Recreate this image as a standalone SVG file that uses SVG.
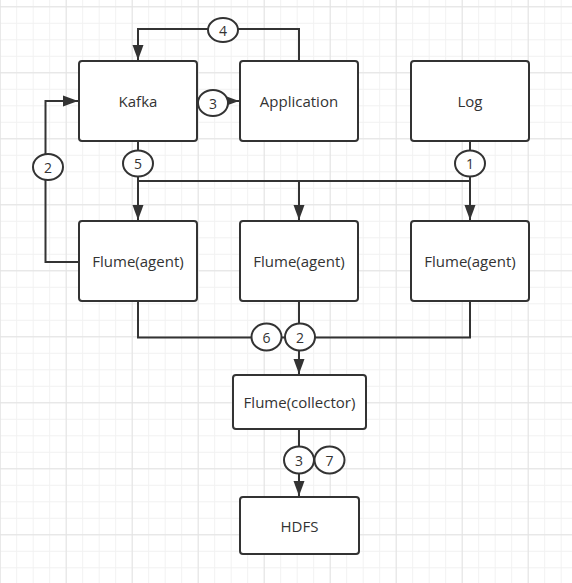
<svg xmlns="http://www.w3.org/2000/svg" width="572" height="583" viewBox="0 0 572 583">
<defs>
<pattern id="minor" x="-0.3" y="6.3" width="16.5" height="16.5" patternUnits="userSpaceOnUse">
<path d="M0 0.5H16.5M0.5 0V16.5" fill="none" stroke="#f1f1f1" stroke-width="1"/>
</pattern>
<pattern id="major" x="-0.3" y="6.3" width="66" height="66" patternUnits="userSpaceOnUse">
<path d="M0 0.5H66M0.5 0V66" fill="none" stroke="#e3e3e3" stroke-width="1"/>
</pattern>
<marker id="arr" markerWidth="16" markerHeight="12" refX="15" refY="6" orient="auto" markerUnits="userSpaceOnUse">
<path d="M0 0.5L15 6L0 11.5Z" fill="#333"/>
</marker>
<style>
.box{fill:#fff;stroke:#333;stroke-width:2}
.lbl{font-family:"Open Sans","Noto Sans",sans-serif;font-size:15px;fill:#333;text-anchor:middle;dominant-baseline:central}
.num{font-family:"Open Sans","Noto Sans",sans-serif;font-size:14px;fill:#333;text-anchor:middle;dominant-baseline:central}
.ln{fill:none;stroke:#333;stroke-width:2}
.cir{fill:#fff;stroke:#333;stroke-width:2}
</style>
</defs>
<rect width="572" height="583" fill="#fff"/>
<rect width="572" height="583" fill="url(#minor)"/>
<rect width="572" height="583" fill="url(#major)"/>

<g id="connectors">
<path class="ln" d="M299 61V29H138V60" marker-end="url(#arr)"/>
<path class="ln" d="M197 101H239" marker-end="url(#arr)"/>
<path class="ln" d="M79 262H45.5V101H78" marker-end="url(#arr)"/>
<path class="ln" d="M138 141V181H470V141"/>
<path class="ln" d="M138 181V220" marker-end="url(#arr)"/>
<path class="ln" d="M299 181V220" marker-end="url(#arr)"/>
<path class="ln" d="M470 181V220" marker-end="url(#arr)"/>
<path class="ln" d="M138 301V337.5H470V301"/>
<path class="ln" d="M299 301V374" marker-end="url(#arr)"/>
<path class="ln" d="M299 429V496" marker-end="url(#arr)"/>
<g id="c4"><ellipse class="cir" cx="223" cy="30" rx="15" ry="12"/><text class="num" x="223" y="30">4</text></g>
<g id="c3a"><ellipse class="cir" cx="213" cy="103" rx="15" ry="13"/><text class="num" x="213" y="103">3</text></g>
<g id="c2a"><ellipse class="cir" cx="48" cy="167" rx="15" ry="13"/><text class="num" x="48" y="167">2</text></g>
<g id="c5"><ellipse class="cir" cx="138" cy="163.5" rx="15" ry="13"/><text class="num" x="138" y="163.5">5</text></g>
<g id="c1"><ellipse class="cir" cx="470" cy="163.5" rx="15" ry="13"/><text class="num" x="470" y="163.5">1</text></g>
<g id="c6"><ellipse class="cir" cx="266.5" cy="337" rx="15" ry="13.5"/><text class="num" x="266.5" y="337">6</text></g>
<g id="c2b"><ellipse class="cir" cx="300" cy="337" rx="15" ry="13.5"/><text class="num" x="300" y="337">2</text></g>
<g id="c3b"><ellipse class="cir" cx="299" cy="460" rx="15" ry="13.5"/><text class="num" x="299" y="460">3</text></g>
<g id="c7"><ellipse class="cir" cx="329.5" cy="460" rx="15" ry="13.5"/><text class="num" x="329.5" y="460">7</text></g>
</g>

<g id="kafka"><rect class="box" x="79" y="61" width="118" height="80" rx="3"/><text class="lbl" x="138" y="101">Kafka</text></g>
<g id="application"><rect class="box" x="240" y="61" width="118" height="80" rx="3"/><text class="lbl" x="299" y="101">Application</text></g>
<g id="log"><rect class="box" x="411" y="61" width="118" height="80" rx="3"/><text class="lbl" x="470" y="101">Log</text></g>
<g id="agent1"><rect class="box" x="79" y="221" width="118" height="80" rx="3"/><text class="lbl" x="138" y="261">Flume(agent)</text></g>
<g id="agent2"><rect class="box" x="240" y="221" width="118" height="80" rx="3"/><text class="lbl" x="299" y="261">Flume(agent)</text></g>
<g id="agent3"><rect class="box" x="411" y="221" width="118" height="80" rx="3"/><text class="lbl" x="470" y="261">Flume(agent)</text></g>
<g id="collector"><rect class="box" x="233" y="375" width="133" height="54" rx="3"/><text class="lbl" x="299.5" y="402">Flume(collector)</text></g>
<g id="hdfs"><rect class="box" x="240" y="497" width="119" height="57" rx="3"/><text class="lbl" x="299.5" y="525.5">HDFS</text></g>
</svg>
